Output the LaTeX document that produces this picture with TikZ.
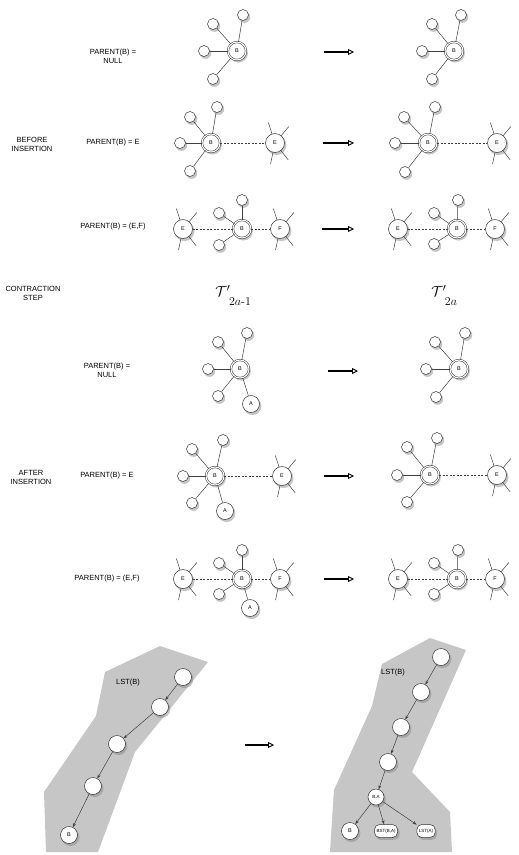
\documentclass[tikz,border=0pt]{standalone}
\usepackage{amsmath}
\usepackage{fontspec}
\setsansfont{Liberation Sans}
\usetikzlibrary{shadows,arrows.meta}
\newcommand\myspokes[1]{\foreach \a in {252,310,102,52}{\draw[ed] (#1) ++(\a:9.5) -- ++(\a:12);}}
\begin{document}
\begin{tikzpicture}[x=1pt,y=-1pt,
  lbl/.style={font=\sffamily\fontsize{7.5}{9}\selectfont, align=center, inner sep=0},
  nd/.style={circle, draw=black!80, line width=0.5pt, fill=white, inner sep=0,
     font=\sffamily\fontsize{5.5}{6}\selectfont,
     drop shadow={shadow xshift=1.4pt, shadow yshift=-2pt, shadow scale=1.05, opacity=0.45}},
  sm/.style={nd, minimum size=11pt},
  bn/.style={nd, minimum size=18pt, double, double distance=1.1pt},
  en/.style={nd, minimum size=19pt},
  an/.style={nd, minimum size=17pt},
  ch/.style={nd, minimum size=17pt},
  rr/.style={nd, rectangle, rounded corners=5pt, minimum height=13pt, inner xsep=2pt},
  ed/.style={line width=0.5pt, draw=black!75},
  de/.style={ed, dash pattern=on 2pt off 1.5pt},
  tr/.style={line width=1.3pt, -{Triangle[open,length=6pt,width=6pt,line width=0.9pt]}},
  ca/.style={ed, -{Stealth[length=4pt,width=3pt]}},
  tlab/.style={font=\fontsize{15}{17}\selectfont, inner sep=0},
  tsub/.style={font=\fontsize{12}{14}\selectfont, inner sep=0},
]
\useasboundingbox (0,0) rectangle (519,855);
\fill[white] (0,0) rectangle (519,855);

% ---------- side labels ----------
\node[lbl] (lb1) at (113,56) {PARENT(B) =\\NULL};
\node[lbl] (lb2) at (113,143) {PARENT(B) = E};
\node[lbl] (lb3) at (113,227) {PARENT(B) = (E,F)};
\node[lbl] (before) at (32,144) {BEFORE\\INSERTION};
\node[lbl] (contr) at (33,293) {CONTRACTION\\STEP};
\node[lbl] (lb5) at (107,370) {PARENT(B) =\\NULL};
\node[lbl] (after) at (31,477) {AFTER\\INSERTION};
\node[lbl] (lb6) at (107,476) {PARENT(B) = E};
\node[lbl] (lb7) at (107,579) {PARENT(B) = (E,F)};
\node[tlab] (t1) at (223,291) {$\mathcal{T}'$};
\node[tsub] (t1s) at (240,302) {$2a\text{-}1$};
\node[tlab] (t2) at (439,291) {$\mathcal{T}'$};
\node[tsub] (t2s) at (451,302) {$2a$};

% ---------- row 1 ----------
\node[bn] (r1B) at (237,51) {B};
\node[sm] (r1a) at (213,24) {};
\node[sm] (r1b) at (243,15) {};
\node[sm] (r1c) at (204,51) {};
\node[sm] (r1d) at (213,79) {};
\foreach \n in {a,b,c,d} \draw[ed] (r1B) -- (r1\n);
\node[bn] (q1B) at (454,51) {B};
\node[sm] (q1a) at (432,24) {};
\node[sm] (q1b) at (461,15) {};
\node[sm] (q1c) at (422,51) {};
\node[sm] (q1d) at (432,79) {};
\foreach \n in {a,b,c,d} \draw[ed] (q1B) -- (q1\n);
\coordinate (a1s) at (324,52); \coordinate (a1e) at (354,52);
\draw[tr] (a1s) -- (a1e);

% ---------- row 2 ----------
\node[bn] (r2B) at (211,143) {B};
\node[sm] (r2a) at (190,117) {};
\node[sm] (r2b) at (217,107) {};
\node[sm] (r2c) at (180,143) {};
\node[sm] (r2d) at (190,171) {};
\node[en] (r2E) at (275,143) {E};
\foreach \n in {a,b,c,d} \draw[ed] (r2B) -- (r2\n);
\draw[de] (r2B) -- (r2E);
\myspokes{r2E}
\node[bn] (q2B) at (428,143) {B};
\node[sm] (q2a) at (404,117) {};
\node[sm] (q2b) at (435,107) {};
\node[sm] (q2c) at (395,143) {};
\node[sm] (q2d) at (405,172) {};
\node[en] (q2E) at (497,143) {E};
\foreach \n in {a,b,c,d} \draw[ed] (q2B) -- (q2\n);
\draw[de] (q2B) -- (q2E);
\myspokes{q2E}
\coordinate (a2s) at (323,143); \coordinate (a2e) at (354,143);
\draw[tr] (a2s) -- (a2e);

% ---------- row 3 ----------
\node[en] (r3E) at (183,229) {E};
\node[bn] (r3B) at (242,229) {B};
\node[en] (r3F) at (280,229) {F};
\node[sm] (r3a) at (219,213) {};
\node[sm] (r3b) at (242,200) {};
\node[sm] (r3c) at (219,245) {};
\foreach \n in {a,b,c} \draw[ed] (r3B) -- (r3\n);
\draw[de] (r3E) -- (r3B);
\draw[de] (r3B) -- (r3F);
\myspokes{r3E}
\myspokes{r3F}
\node[en] (q3E) at (398,229) {E};
\node[bn] (q3B) at (457,229) {B};
\node[en] (q3F) at (495,229) {F};
\node[sm] (q3a) at (434,213) {};
\node[sm] (q3b) at (458,200) {};
\node[sm] (q3c) at (434,244) {};
\foreach \n in {a,b,c} \draw[ed] (q3B) -- (q3\n);
\draw[de] (q3E) -- (q3B);
\draw[de] (q3B) -- (q3F);
\myspokes{q3E}
\myspokes{q3F}
\coordinate (a3s) at (322,229); \coordinate (a3e) at (354,229);
\draw[tr] (a3s) -- (a3e);

% ---------- row 5 ----------
\node[bn] (r5B) at (240,369) {B};
\node[sm] (r5a) at (218,342) {};
\node[sm] (r5b) at (247,333) {};
\node[sm] (r5c) at (208,369) {};
\node[sm] (r5d) at (218,396) {};
\node[an] (r5A) at (251,404) {A};
\foreach \n in {a,b,c,d,A} \draw[ed] (r5B) -- (r5\n);
\node[bn] (q5B) at (459,369) {B};
\node[sm] (q5a) at (435,342) {};
\node[sm] (q5b) at (465,333) {};
\node[sm] (q5c) at (426,369) {};
\node[sm] (q5d) at (436,397) {};
\foreach \n in {a,b,c,d} \draw[ed] (q5B) -- (q5\n);
\coordinate (a5s) at (328,371); \coordinate (a5e) at (358,371);
\draw[tr] (a5s) -- (a5e);

% ---------- row 6 ----------
\node[bn] (r6B) at (215,476) {B};
\node[sm] (r6a) at (192,449) {};
\node[sm] (r6b) at (223,440) {};
\node[sm] (r6c) at (183,476) {};
\node[sm] (r6d) at (192,503) {};
\node[an] (r6A) at (225,511) {A};
\node[en] (r6E) at (282,476) {E};
\foreach \n in {a,b,c,d,A} \draw[ed] (r6B) -- (r6\n);
\draw[de] (r6B) -- (r6E);
\myspokes{r6E}
\node[bn] (q6B) at (430,475) {B};
\node[sm] (q6a) at (407,447) {};
\node[sm] (q6b) at (437,438) {};
\node[sm] (q6c) at (397,475) {};
\node[sm] (q6d) at (407,502) {};
\node[en] (q6E) at (497,475) {E};
\foreach \n in {a,b,c,d} \draw[ed] (q6B) -- (q6\n);
\draw[de] (q6B) -- (q6E);
\myspokes{q6E}
\coordinate (a6s) at (324,476); \coordinate (a6e) at (354,476);
\draw[tr] (a6s) -- (a6e);

% ---------- row 7 ----------
\node[en] (r7E) at (183,579) {E};
\node[bn] (r7B) at (242,579) {B};
\node[en] (r7F) at (280,579) {F};
\node[sm] (r7a) at (219,563) {};
\node[sm] (r7b) at (242,550) {};
\node[sm] (r7c) at (219,594) {};
\node[an] (r7A) at (250,608) {A};
\foreach \n in {a,b,c,A} \draw[ed] (r7B) -- (r7\n);
\draw[de] (r7E) -- (r7B);
\draw[de] (r7B) -- (r7F);
\myspokes{r7E}
\myspokes{r7F}
\node[en] (q7E) at (398,579) {E};
\node[bn] (q7B) at (457,579) {B};
\node[en] (q7F) at (495,579) {F};
\node[sm] (q7a) at (434,563) {};
\node[sm] (q7b) at (458,550) {};
\node[sm] (q7c) at (434,594) {};
\foreach \n in {a,b,c} \draw[ed] (q7B) -- (q7\n);
\draw[de] (q7E) -- (q7B);
\draw[de] (q7B) -- (q7F);
\myspokes{q7E}
\myspokes{q7F}
\coordinate (a7s) at (324,579); \coordinate (a7e) at (354,579);
\draw[tr] (a7s) -- (a7e);

% ---------- bottom: LST chains ----------
\fill[gray!45] (160,646) -- (208,662) -- (135,752) -- (98,852) -- (46,852)
  -- (44,792) -- (96,716) -- (105,672) -- cycle;
\node[lbl] (lstl) at (128,683) {LST(B)};
\node[ch] (l1) at (183,677) {};
\node[ch] (l2) at (160,707) {};
\node[ch] (l3) at (117,744) {};
\node[ch] (l4) at (93,786) {};
\node[ch] (lB) at (69,835) {B};
\draw[ca] (l1) -- (l2);
\draw[ca] (l2) -- (l3);
\draw[ca] (l3) -- (l4);
\draw[ca] (l4) -- (lB);

\fill[gray!45] (430,638) -- (466,650) -- (412,772) -- (450,812) -- (452,852)
  -- (330,852) -- (334,790) -- (372,706) -- (382,664) -- cycle;
\node[lbl] (lstr) at (393,673) {LST(B)};
\node[ch] (m1) at (441,657) {};
\node[ch] (m2) at (421,692) {};
\node[ch] (m3) at (401,727) {};
\node[ch] (m4) at (388,762) {};
\node[nd, minimum size=16pt, font=\sffamily\fontsize{4.5}{5}\selectfont] (mBA) at (376,797) {B,A};
\node[ch] (mB) at (350,831) {B};
\node[rr, font=\sffamily\fontsize{4.5}{5}\selectfont] (mBST) at (386,831) {BST(B,A)};
\node[rr, font=\sffamily\fontsize{4.5}{5}\selectfont] (mLA) at (426,831) {LST(A)};
\draw[ca] (m1) -- (m2);
\draw[ca] (m2) -- (m3);
\draw[ca] (m3) -- (m4);
\draw[ca] (m4) -- (mBA);
\draw[ca] (mBA) -- (mB);
\draw[ca] (mBA) -- (mBST);
\draw[ca] (mBA) -- (mLA);

\coordinate (a8s) at (245,745); \coordinate (a8e) at (274,745);
\draw[tr] (a8s) -- (a8e);
\end{tikzpicture}
\end{document}
